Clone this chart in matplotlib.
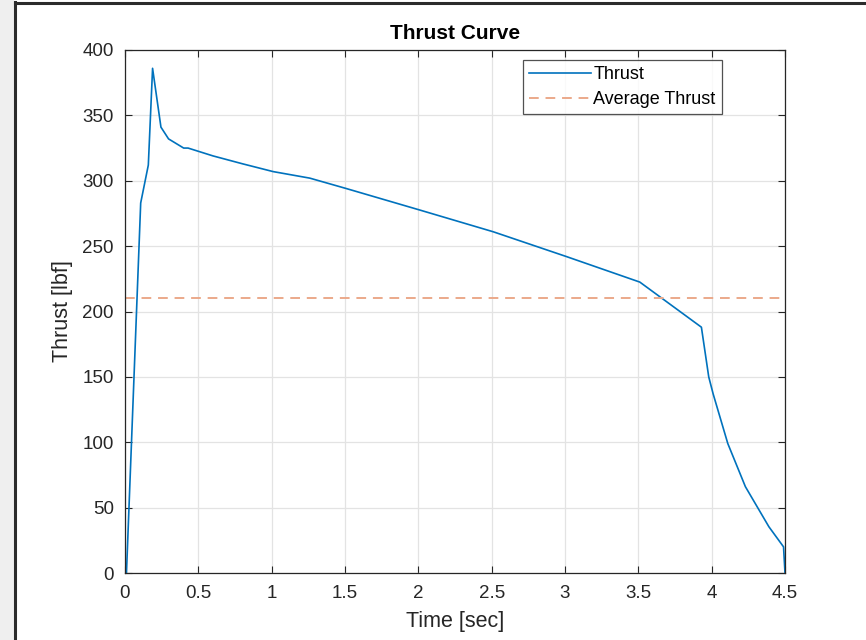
import matplotlib
matplotlib.use("Agg")
import matplotlib.pyplot as plt
from matplotlib.patches import Rectangle
from matplotlib.lines import Line2D

plt.rcParams['font.family'] = ['Liberation Sans', 'DejaVu Sans']

time_s = [0.0, 0.01, 0.107, 0.159, 0.188, 0.245, 0.297, 0.40, 0.43, 0.60, 0.80, 1.01, 1.26,
          1.51, 2.01, 2.51, 3.01, 3.51, 3.93, 3.98, 4.01, 4.11, 4.23, 4.39, 4.49, 4.50]
thrust_lbf = [0, 0, 283, 312, 386, 341, 332, 325, 325, 319, 313, 307, 302,
              294, 277.6, 261, 242, 222.5, 188, 150, 137, 99, 66, 35.4, 20, 0]
avg_thrust = 210

xticks = [0, 0.5, 1, 1.5, 2, 2.5, 3, 3.5, 4, 4.5]
xtick_labels = ['0', '0.5', '1', '1.5', '2', '2.5', '3', '3.5', '4', '4.5']
yticks = [0, 50, 100, 150, 200, 250, 300, 350, 400]

fig = plt.figure(figsize=(8.66, 6.40), dpi=100)
fig.patch.set_facecolor('white')
# screenshot frame
fig.patches.append(Rectangle((0, 0), 14/866, 1, transform=fig.transFigure,
                             facecolor='#efefef', edgecolor='none', zorder=0))
fig.lines.append(Line2D([15/866, 15/866], [0, 1 - 2/640], transform=fig.transFigure,
                        color='#2b2b2b', lw=2.2))
fig.lines.append(Line2D([15/866, 1], [1 - 2.5/640, 1 - 2.5/640], transform=fig.transFigure,
                        color='#2b2b2b', lw=2.2))

ax = fig.add_axes([125/866, 67/640, 660/866, 523/640])
ax.plot(time_s, thrust_lbf, color='#0072BD', lw=1.2, label='Thrust')
ax.axhline(avg_thrust, color='#EBA98A', lw=1.4, ls=(0, (5, 3.5)), label='Average Thrust')

ax.set_xlim(0, 4.5)
ax.set_ylim(0, 400)
ax.set_xticks(xticks)
ax.set_xticklabels(xtick_labels)
ax.set_yticks(yticks)
ax.grid(True, color='#e3e3e3', lw=0.9)
ax.set_axisbelow(True)
ax.tick_params(direction='in', top=True, right=True, length=5, width=0.8,
               colors='#262626', labelsize=13.5, labelcolor='#262626')
ax.tick_params(axis='x', pad=9)
ax.tick_params(axis='y', pad=8)
for s in ax.spines.values():
    s.set_color('#262626')
    s.set_linewidth(0.9)

ax.set_title('Thrust Curve', fontsize=15, fontweight='bold', color='black', pad=8)
ax.set_xlabel('Time [sec]', fontsize=15.5, color='#262626', labelpad=6)
ax.set_ylabel('Thrust [lbf]', fontsize=15.5, color='#262626', labelpad=7)

leg = ax.legend(loc='upper right', bbox_to_anchor=(597/660, 1 - 9.5/523), fontsize=13,
                frameon=True, fancybox=False, handlelength=3.4, handletextpad=0.15,
                borderpad=0.35, labelspacing=0.45, borderaxespad=0)
leg.get_frame().set_edgecolor('#262626')
leg.get_frame().set_linewidth(0.9)

fig.savefig('out.png', dpi=100)
